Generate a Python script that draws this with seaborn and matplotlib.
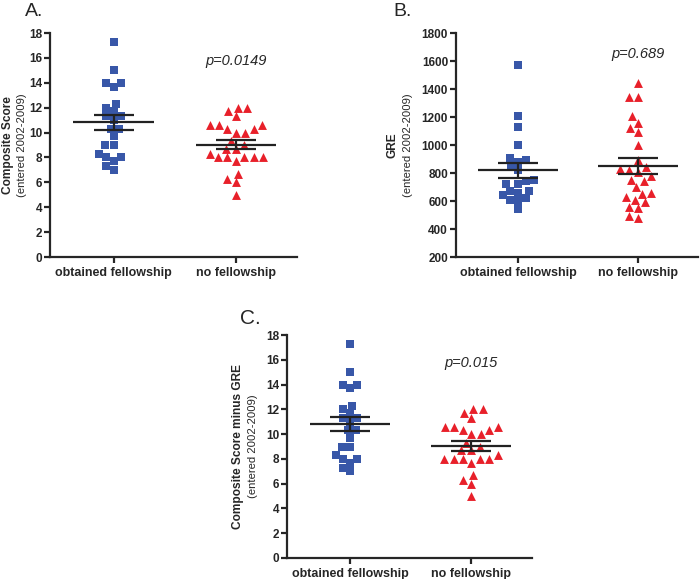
import numpy as np
import pandas as pd
import matplotlib
matplotlib.use("Agg")
import matplotlib.pyplot as plt
import seaborn as sns

# ---- data ----
groups = ["obtained fellowship", "no fellowship"]

# panel A (composite score) - panel C shows the same values
comp_fellow = [17.3, 15.0, 14.0, 14.0, 13.7, 12.3, 12.0, 11.7, 11.3, 11.3, 11.0,
               10.3, 10.3, 9.7, 9.0, 9.0, 8.3, 8.0, 8.0, 7.7, 7.3, 7.0]
comp_none = [12.0, 12.0, 11.7, 11.3, 10.6, 10.6, 10.6, 10.3, 10.3, 10.0, 10.0,
             9.3, 9.0, 8.7, 8.7, 8.3, 8.0, 8.0, 8.0, 8.0, 8.0, 7.7, 6.7, 6.3, 6.0, 5.0]

# panel B (GRE)
gre_fellow = [1570, 1210, 1130, 1000, 905, 890, 880, 850, 820, 750, 740, 720, 720,
              670, 670, 660, 640, 620, 610, 600, 540]
gre_none = [1440, 1340, 1340, 1210, 1160, 1120, 1090, 1000, 890, 840, 830, 820, 810,
            780, 750, 740, 700, 660, 650, 630, 610, 590, 560, 550, 490, 480]

p_values = ["p=0.0149", "p=0.689", "p=0.015"]

BLUE = "#3857a8"
RED = "#e8202a"
FONT = "Liberation Sans"

sns.set_style("ticks")
plt.rcParams["font.family"] = [FONT, "DejaVu Sans"]
plt.rcParams["axes.linewidth"] = 1.6

fig = plt.figure(figsize=(7, 5.79), dpi=100)


def make_df(a, b):
    return pd.DataFrame({"group": [groups[0]] * len(a) + [groups[1]] * len(b),
                         "value": a + b})


def panel(rect, a, b, ylim, step, ylab, pval, py, lab_x):
    ax = fig.add_axes(rect)
    df = make_df(a, b)
    sns.swarmplot(data=df[df.group == groups[0]], x="group", y="value", order=groups,
                  marker="s", color=BLUE, size=5.6, ax=ax)
    sns.swarmplot(data=df[df.group == groups[1]], x="group", y="value", order=groups,
                  marker="^", color=RED, size=6.4, ax=ax)
    # mean +/- SEM
    for i, g in enumerate(groups):
        v = df.loc[df.group == g, "value"].to_numpy()
        m = v.mean()
        se = v.std(ddof=1) / np.sqrt(len(v))
        ax.hlines(m, i - 0.33, i + 0.33, color="#222222", lw=1.6, zorder=5)
        ax.errorbar(i, m, yerr=se, color="#222222", lw=1.6, capsize=14.5,
                    capthick=1.6, zorder=5)
    ax.set_xlim(-0.52, 1.5)
    ax.set_ylim(*ylim)
    ax.set_yticks(np.arange(ylim[0], ylim[1] + step, step))
    ax.set_xlabel("")
    ax.set_ylabel("")
    ax.tick_params(axis="both", length=4, width=1.6, labelsize=8.5, pad=1.5)
    for t in ax.get_xticklabels() + ax.get_yticklabels():
        t.set_fontweight("bold")
    ax.tick_params(axis="x", labelsize=9, pad=3)
    sns.despine(ax=ax)
    ax.text(1, py, pval, transform=ax.get_xaxis_transform(), ha="center", va="center",
            fontsize=10.5, style="italic")
    ax.text(lab_x[0], 0.5, ylab, transform=ax.transAxes, rotation=90, ha="center",
            va="center", fontsize=8.6, fontweight="bold")
    ax.text(lab_x[1], 0.5, "(entered 2002-2009)", transform=ax.transAxes, rotation=90,
            ha="center", va="center", fontsize=8.1)
    return ax


panel([0.0714, 0.556, 0.353, 0.387], comp_fellow, comp_none, (0, 18), 2,
      "Composite Score", p_values[0], 0.875, (-0.168, -0.112))
panel([0.651, 0.556, 0.346, 0.387], gre_fellow, gre_none, (200, 1800), 200,
      "GRE", p_values[1], 0.906, (-0.26, -0.195))
panel([0.41, 0.0363, 0.35, 0.385], comp_fellow, comp_none, (0, 18), 2,
      "Composite Score minus GRE", p_values[2], 0.874, (-0.2, -0.138))

fig.text(25 / 700, 1 - 11 / 579, "A.", fontsize=14, va="center", ha="left")
fig.text(393 / 700, 1 - 11 / 579, "B.", fontsize=14, va="center", ha="left")
fig.text(240 / 700, 1 - 318 / 579, "C.", fontsize=15, va="center", ha="left")

fig.savefig("out.png", dpi=100)
